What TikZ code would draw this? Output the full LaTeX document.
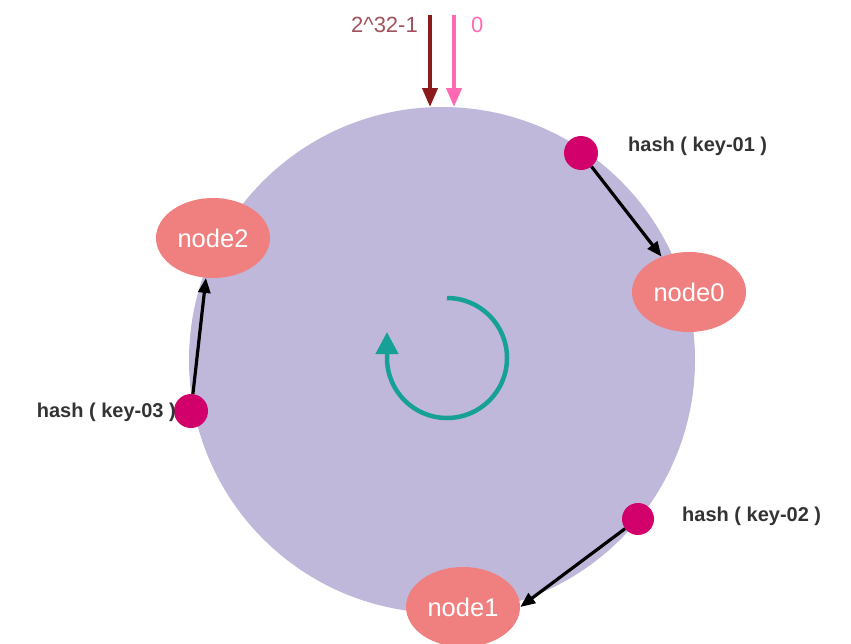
\documentclass[tikz,border=0pt]{standalone}
\usepackage{fontspec}
\setmainfont{Liberation Sans}
\usetikzlibrary{arrows.meta,shapes.geometric}
\definecolor{ringfill}{HTML}{C0B8DA}
\definecolor{nodefill}{HTML}{F08080}
\definecolor{dotfill}{HTML}{D2006A}
\definecolor{maxred}{HTML}{8B1A1A}
\definecolor{zeropink}{HTML}{FF69B4}
\definecolor{maxlbl}{HTML}{A0525A}
\definecolor{teal2}{HTML}{16A096}
\definecolor{lblgrey}{HTML}{333333}
\tikzset{
  server/.style={ellipse, fill=nodefill, minimum width=114pt, minimum height=80pt, inner sep=0pt, text=white, font=\fontsize{25.5}{28}\selectfont},
  keydot/.style={circle, fill=dotfill, minimum size=34pt, inner sep=0pt},
  keylbl/.style={font=\bfseries\fontsize{20}{23}\selectfont, text=lblgrey},
  maparrow/.style={-{Triangle[length=15pt,width=12pt]}, line width=3.2pt, black},
  topmark/.style={-{Triangle[length=19pt,width=15pt]}, line width=4pt},
}
\begin{document}
\begin{tikzpicture}[x=1pt,y=-1pt]
\useasboundingbox (0,0) rectangle (851,643);
\node[circle, fill=ringfill, minimum size=506pt, inner sep=0pt] (ring) at (442,360) {};
% top markers
\coordinate (maxs) at (430,15);
\coordinate (maxe) at (430,107);
\coordinate (zs) at (454,15);
\coordinate (ze) at (454,107);
\draw[topmark, maxred] (maxs) -- (maxe);
\draw[topmark, zeropink] (zs) -- (ze);
\node[anchor=east, text=maxlbl, font=\fontsize{22}{25}\selectfont, inner sep=0pt] (maxlabel) at (418,25) {2\^{}32-1};
\node[anchor=west, text=zeropink, font=\fontsize{22}{25}\selectfont, inner sep=0pt] (zlabel) at (471,25) {0};
% servers
\node[server] (n2) at (213,238) {node2};
\node[server] (n0) at (689,292) {node0};
\node[server] (n1) at (463,607) {node1};
% keys
\node[keydot] (k1) at (581,153) {};
\node[keydot] (k3) at (191,411) {};
\node[keydot, minimum size=32pt] (k2) at (638,519) {};
\node[keylbl, anchor=west, inner sep=0pt] (l1) at (628,146) {hash ( key-01 )};
\node[keylbl, anchor=east, inner sep=0pt] (l3) at (176,412) {hash ( key-03 )};
\node[keylbl, anchor=west, inner sep=0pt] (l2) at (682,516) {hash ( key-02 )};
% mapping arrows
\draw[maparrow] (k1) -- (n0);
\draw[maparrow] (k2) -- (n1.east);
\draw[maparrow] (k3) -- (n2.260);
% rotation
\coordinate (rc) at (447,358);
\draw[teal2, line width=4.5pt, -{Triangle[length=22pt,width=22pt]}] ([shift={(0,-60)}]rc) arc[start angle=-90, end angle=180, radius=60] -- ++(0,-26);
\end{tikzpicture}
\end{document}
